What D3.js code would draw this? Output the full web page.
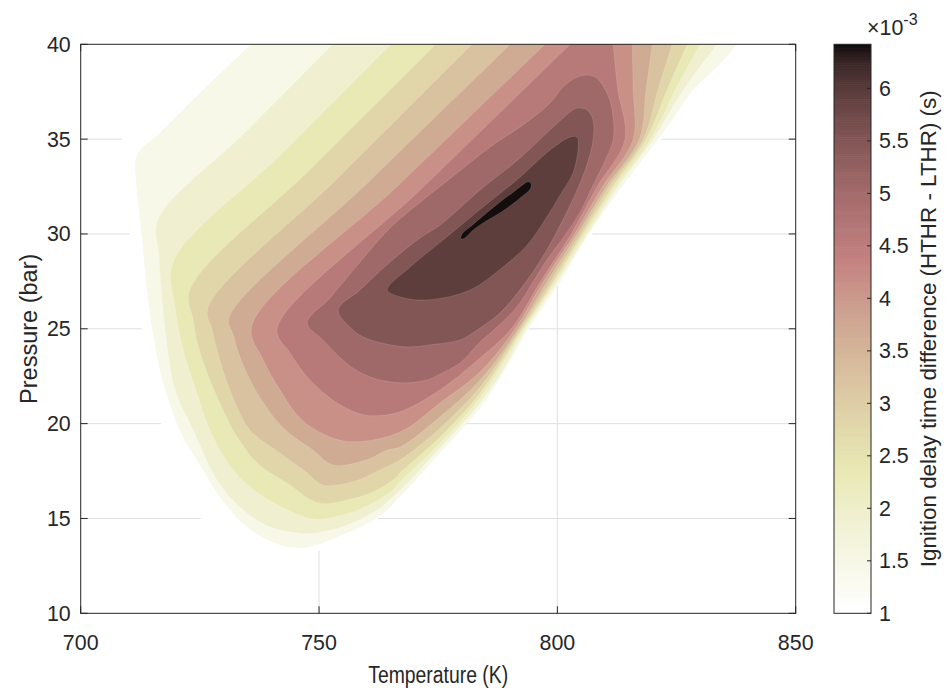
<!DOCTYPE html>
<meta charset="utf-8">
<style>
    body { margin: 0; background: #fff; }
    text { font-family: "Liberation Sans", Arial, sans-serif; fill: #262626; }
    .grid line { stroke: #dfdfdf; stroke-width: 1px; }
    .tick-mark { stroke: #262626; stroke-width: 1px; }
</style>

<svg width="946" height="689"></svg>

<script src="https://cdn.jsdelivr.net/npm/d3@7/dist/d3.min.js"></script>
<script>
    // contour levels (x 1e-3 s); each band below is the region above its level
    var levels = [1.0, 1.45, 1.9, 2.35, 2.8, 3.25, 3.7, 4.15, 4.6, 5.05, 5.5, 5.95, 6.4];

    // boundaries, [temperature (K), pressure (bar)]
    var band100 = [[707.6,41],[707.8,40],[708.7,35],[710.3,30],[712.8,25],[716.8,20],[725.2,15],[733.4,13.9],[743.9,13.2],[750.0,13.3],[762.4,15.0],[780.6,20.0],[793.9,25.0],[807.3,30.0],[821.8,35.0],[843.6,40],[848,41]];
    var band145 = [[739.9,41],[735.7,40],[725.0,37.43],[716.6,35.32],[711.8,34.16],[711.6,32.85],[712.2,31.27],[712.9,29.68],[713.9,27.05],[715.2,24.68],[716.6,22.83],[718.7,20.99],[721.5,19.25],[725.0,17.82],[728.6,16.35],[732.8,15.03],[737.6,14.08],[742.5,13.55],[746.0,13.45],[748.7,13.55],[755.9,14.24],[762.2,15.03],[767.0,16.14],[775.4,18.45],[783.8,20.83],[788.4,22.57],[793.7,24.89],[800.6,27.47],[805.8,29.68],[809.6,31.11],[814.6,32.85],[819.9,34.59],[824.1,36.01],[828.5,37.59],[833.5,38.8],[837.7,40],[841.2,41]];
    var band190 = [[756.9,41],[752.9,40],[734.6,35.37],[716.2,30.74],[716.4,28.89],[717.1,26.52],[718.1,24.15],[719.8,21.78],[723.6,19.67],[728.6,17.03],[734.1,15.45],[739.7,14.56],[745.4,14.24],[749.2,14.24],[755.9,14.66],[762.2,15.45],[767.0,16.5],[775.4,18.72],[783.8,21.09],[788.6,22.83],[793.4,24.99],[800.0,27.47],[806.3,30.0],[812.7,32.48],[820.1,35.0],[826.4,37.59],[833.5,40],[836.5,41]];
    var band235 = [[769.1,41],[765.1,40],[742.3,34.26],[719.4,28.52],[719.8,26.15],[721.5,23.89],[724.4,21.62],[727.3,19.56],[732.0,17.56],[738.3,16.14],[745.4,15.24],[748.5,14.98],[752.3,15.03],[759.2,15.56],[765.5,16.5],[767.0,16.93],[775.4,18.98],[783.8,21.36],[793.0,24.99],[799.5,27.47],[805.8,30.0],[812.1,32.48],[819.5,35.0],[824.7,37.59],[829.9,40],[832.1,41]];
    var band280 = [[778.5,41],[774.5,40],[748.7,33.53],[722.9,27.05],[723.6,25.47],[724.6,24.15],[727.1,22.3],[730.9,20.19],[732.6,19.4],[737.0,17.93],[743.3,16.87],[749.8,15.82],[755.9,15.98],[761.3,16.4],[766.3,17.19],[767.0,17.4],[775.4,19.3],[783.8,21.62],[792.6,24.99],[799.1,27.47],[805.3,30.0],[811.5,32.48],[818.6,35.0],[823.0,37.59],[827.2,40],[828.9,41]];
    var band325 = [[786.1,41],[782.1,40],[754.4,33.05],[726.7,26.1],[727.6,24.94],[728.6,23.89],[731.3,21.78],[735.5,19.67],[741.8,18.45],[747.5,17.4],[750.8,16.77],[757.1,16.93],[762.8,17.56],[767.0,18.09],[775.4,19.77],[783.8,21.93],[792.2,24.99],[798.5,27.47],[804.8,30.0],[810.8,32.48],[818.0,35.0],[821.1,37.59],[824.1,40],[825.3,41]];
    var band370 = [[794.2,41],[790.1,40],[760.6,32.79],[731.1,25.57],[732.0,24.68],[733.4,23.52],[737.0,21.62],[742.5,19.77],[748.7,18.61],[752.9,17.82],[760.0,18.09],[764.3,18.61],[767.0,18.77],[775.4,20.36],[783.8,22.3],[791.8,24.99],[797.8,27.47],[804.2,30.0],[810.2,32.48],[817.2,35.0],[818.6,37.59],[819.9,40],[820.4,41]];
    var band415 = [[801.5,41],[797.4,40],[766.7,32.58],[735.9,25.15],[738.3,23.36],[741.8,21.78],[746.0,20.3],[751.3,19.4],[757.1,19.04],[767.0,19.56],[775.4,21.09],[783.8,22.73],[791.1,24.99],[797.0,27.47],[803.6,30.0],[809.4,32.48],[815.9,35.0],[815.9,37.59],[815.7,40],[815.6,41]];
    var band460 = [[806.8,41],[802.7,40],[772.0,32.5],[741.2,24.99],[743.9,23.73],[748.1,22.3],[753.8,21.09],[758.6,20.51],[761.8,20.41],[767.0,20.62],[775.4,21.78],[783.8,23.46],[790.3,24.99],[796.4,27.47],[802.9,30.0],[808.3,32.48],[814.2,35.0],[812.7,37.59],[811.7,40],[811.3,41]];
    var band505 = [[747.5,25.31],[752.3,26.63],[758.6,28.52],[764.9,30.32],[771.8,31.79],[779.0,33.22],[785.9,34.59],[792.8,35.75],[798.5,36.91],[801.6,37.85],[804.8,38.33],[807.9,38.28],[810.6,37.33],[811.7,36.17],[811.7,34.96],[809.6,33.64],[807.3,32.48],[804.8,31.16],[801.8,30.0],[797.8,28.63],[794.9,27.47],[791.5,26.15],[786.9,24.99],[783.8,24.31],[779.6,23.2],[775.4,22.62],[772.7,22.3],[767.0,22.15],[760.7,22.46],[755.9,23.15],[750.8,24.41]];
    var band550 = [[754.0,25.99],[758.6,27.05],[764.9,28.52],[771.2,29.79],[775.4,30.47],[783.8,32.32],[792.2,34.01],[798.5,35.49],[802.7,36.43],[804.1,36.64],[806.2,36.54],[807.5,36.01],[807.5,34.96],[806.2,33.64],[803.7,32.06],[800.6,30.47],[797.8,29.16],[793.7,27.57],[788.0,25.84],[783.2,24.94],[779.6,24.41],[773.3,24.15],[769.1,24.04],[766.0,24.1],[759.7,24.52],[757.1,24.94]];
    var band595 = [[764.3,27.05],[769.1,28.26],[776.0,29.68],[784.4,31.42],[791.5,32.85],[798.5,34.43],[802.7,35.11],[804.1,35.11],[804.4,34.69],[803.3,33.22],[800.6,32.06],[797.4,30.74],[793.7,29.42],[788.6,28.26],[781.7,27.05],[772.7,26.52],[767.0,26.68]];
    var band640 = [[780.0,30.0],[781.7,30.37],[784.4,30.95],[788.0,31.69],[791.1,32.27],[793.0,32.64],[793.9,32.75],[794.5,32.64],[794.3,32.37],[792.2,31.9],[789.5,31.37],[786.9,30.95],[784.4,30.58],[782.1,30.16],[780.6,29.79],[779.8,29.74]];

    var xTicks = [700, 750, 800, 850],
        yTicks = [10, 15, 20, 25, 30, 35, 40],
        cbTicks = [1, 1.5, 2, 2.5, 3, 3.5, 4, 4.5, 5, 5.5, 6];

    var bands = [band100, band145, band190, band235, band280, band325, band370,
                 band415, band460, band505, band550, band595, band640];

    (function () {
        var svg = d3.select("svg"),
            left = 80.7, right = 795.7, top = 44.3, bottom = 613.3,
            tickSize = 21.4, labelSize = 23.5,
            x = d3.scaleLinear().domain([700, 850]).range([left, right]),
            y = d3.scaleLinear().domain([10, 40]).range([bottom, top]);

        // MATLAB "pink", flipped so low values are white
        function pink(t) {
            var r = Math.min(1, t * 8 / 3),
                g = Math.max(0, Math.min(1, (t - 3 / 8) * 8 / 3)),
                b = Math.max(0, Math.min(1, (t - 3 / 4) * 4));
            return d3.rgb(255 * Math.sqrt((2 * t + r) / 3),
                          255 * Math.sqrt((2 * t + g) / 3),
                          255 * Math.sqrt((2 * t + b) / 3)) + "";
        }
        var color = d3.scaleSequential(function (t) { return pink(1 - t); }).domain([1, 6.42]);

        function label(px, py, str, size, anchor, rotate) {
            return svg.append("text")
                .attr("transform", "translate(" + px + "," + py + ")" +
                      (rotate ? " rotate(" + rotate + ")" : ""))
                .attr("text-anchor", anchor || "start")
                .style("font-size", size + "px")
                .text(str);
        }

        svg.append("clipPath").attr("id", "plot-clip")
            .append("rect")
            .attr("x", left).attr("y", top)
            .attr("width", right - left).attr("height", bottom - top);

        // grid + inward ticks sit under the filled contours
        var grid = svg.append("g").attr("class", "grid");
        grid.selectAll(".gx").data(xTicks.slice(1, -1)).enter().append("line")
            .attr("x1", x).attr("x2", x).attr("y1", top).attr("y2", bottom);
        grid.selectAll(".gy").data(yTicks.slice(1, -1)).enter().append("line")
            .attr("y1", y).attr("y2", y).attr("x1", left).attr("x2", right);

        var ticks = svg.append("g");
        xTicks.forEach(function (d) {
            ticks.append("line").attr("class", "tick-mark")
                .attr("x1", x(d)).attr("x2", x(d)).attr("y1", bottom).attr("y2", bottom - 7);
            ticks.append("line").attr("class", "tick-mark")
                .attr("x1", x(d)).attr("x2", x(d)).attr("y1", top).attr("y2", top + 7);
        });
        yTicks.forEach(function (d) {
            ticks.append("line").attr("class", "tick-mark")
                .attr("x1", left).attr("x2", left + 7).attr("y1", y(d)).attr("y2", y(d));
            ticks.append("line").attr("class", "tick-mark")
                .attr("x1", right).attr("x2", right - 7).attr("y1", y(d)).attr("y2", y(d));
        });

        var line = d3.line()
            .x(function (d) { return x(d[0]); })
            .y(function (d) { return y(d[1]); })
            .curve(d3.curveCatmullRomClosed.alpha(0.5));

        svg.append("g")
            .attr("clip-path", "url(#plot-clip)")
            .selectAll("path")
            .data(bands)
            .enter()
            .append("path")
            .attr("d", line)
            .attr("fill", function (d, i) { return color(levels[i]); })
            .attr("stroke", function (d, i) { return i === 0 ? "none" : "rgba(255,255,255,0.22)"; })
            .attr("stroke-width", 0.6);

        // axes box on top
        svg.append("rect")
            .attr("x", left).attr("y", top)
            .attr("width", right - left).attr("height", bottom - top)
            .attr("fill", "none").attr("stroke", "#262626").attr("stroke-width", 1);

        xTicks.forEach(function (d) { label(x(d), 650, d, tickSize, "middle"); });
        yTicks.forEach(function (d) { label(left - 10, y(d) + 7.5, d, tickSize, "end"); });

        label((left + right) / 2, 683, "Temperature (K)", labelSize, "middle")
            .attr("textLength", 140).attr("lengthAdjust", "spacingAndGlyphs");
        label(37, (top + bottom) / 2, "Pressure (bar)", labelSize, "middle", -90);

        // colorbar
        var cbLeft = 834, cbWidth = 37, n = 300, step = 5.42 / n,
            cy = d3.scaleLinear().domain([1, 6.42]).range([bottom, top]),
            steps = d3.range(0, n).map(function (i) { return 1 + i * step; });

        svg.append("g").selectAll("rect").data(steps).enter().append("rect")
            .attr("x", cbLeft).attr("width", cbWidth)
            .attr("y", function (d) { return cy(d + step); })
            .attr("height", cy(1) - cy(1 + step) + 0.6)
            .attr("fill", function (d) { return color(d + step / 2); });

        svg.append("rect")
            .attr("x", cbLeft).attr("y", top)
            .attr("width", cbWidth).attr("height", bottom - top)
            .attr("fill", "none").attr("stroke", "#262626").attr("stroke-width", 1);

        cbTicks.forEach(function (d) {
            svg.append("line").attr("class", "tick-mark")
                .attr("x1", cbLeft + cbWidth).attr("x2", cbLeft + cbWidth - 4)
                .attr("y1", cy(d)).attr("y2", cy(d));
            label(cbLeft + cbWidth + 8, cy(d) + 7.5, d, tickSize, "start");
        });

        var exp = label(867, 35, "\u00d710", tickSize, "start");
        exp.append("tspan").attr("dy", -10).style("font-size", "16px").text("-3");

        label(936, (top + bottom) / 2, "Ignition delay time difference (HTHR - LTHR) (s)", 22.4, "middle", -90);
    })();
</script>
